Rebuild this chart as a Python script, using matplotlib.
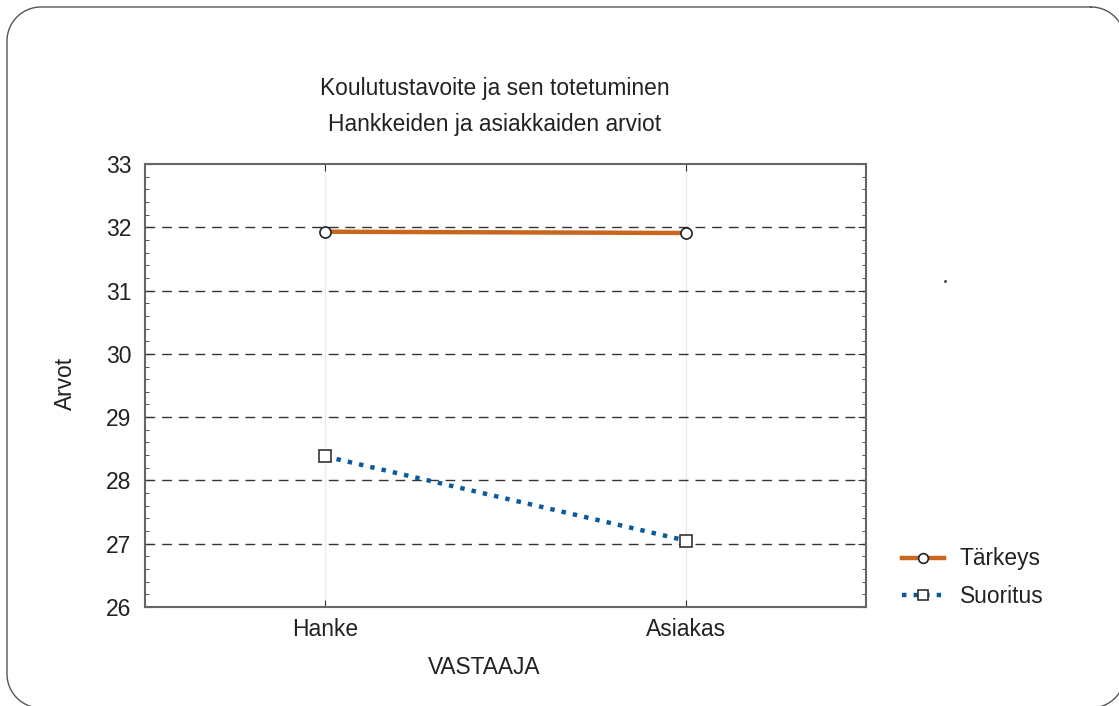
import matplotlib
matplotlib.use('Agg')
import matplotlib.pyplot as plt
import numpy as np
from matplotlib.ticker import MultipleLocator

plt.rcParams['font.family'] = ['Liberation Sans', 'DejaVu Sans']

# data
categories = ['Hanke', 'Asiakas']
tarkeys = [31.93, 31.91]
suoritus = [28.38, 27.05]
series_names = ['Tärkeys', 'Suoritus']
y_ticks = [26, 27, 28, 29, 30, 31, 32, 33]

W, H = 1119, 706
fig = plt.figure(figsize=(W / 100, H / 100), dpi=100)


def rounded_frame(x0, y0, x1, y1, r):
    # outline of a rounded rectangle, pixel coords with y going down
    pts = []
    corners = [(x1 - r, y0 + r, 90, 0), (x1 - r, y1 - r, 0, -90),
               (x0 + r, y1 - r, -90, -180), (x0 + r, y0 + r, 180, 90)]
    for cx, cy, a0, a1 in corners:
        t = np.radians(np.linspace(a0, a1, 30))
        pts += list(zip(cx + r * np.cos(t), cy - r * np.sin(t)))
    pts.append(pts[0])
    return np.array(pts)


# background axes in pixel units for the rounded frame (cut off right/bottom)
bg = fig.add_axes([0, 0, 1, 1], zorder=-1)
bg.set_xlim(0, W)
bg.set_ylim(H, 0)
bg.axis('off')
fp = rounded_frame(7, 7, 1125, 708, 34)
bg.plot(fp[:, 0], fp[:, 1], color='#555555', lw=1.0, clip_on=False)
bg.plot([945], [281], marker='o', markersize=1.2, color='#555555')  # stray dot

ax = fig.add_axes([145 / W, 1 - 607 / H, (866 - 145) / W, (607 - 164) / H])
x = list(range(len(categories)))

# grid
for yv in y_ticks[1:-1]:
    ax.axhline(yv, color='#333333', lw=1.0, dashes=(7, 5), zorder=1)
for xv in x:
    ax.axvline(xv, color='#ebebeb', lw=1.0, zorder=0)

l1, = ax.plot(x, tarkeys, color='#C8661E', lw=3.2, marker='o', markersize=8,
              markerfacecolor='white', markeredgecolor='#222222', markeredgewidth=1.2,
              label=series_names[0], zorder=3)
l2, = ax.plot(x, suoritus, color='#0A5A9C', lw=3.2, dashes=(1.0, 1.6), marker='s',
              markersize=8, markerfacecolor='white', markeredgecolor='#333333',
              markeredgewidth=1.2, label=series_names[1], zorder=3)

ax.set_xlim(-0.5, 1.5)
ax.set_ylim(26, 33)
ax.set_xticks(x)
ax.set_xticklabels(categories)
ax.set_yticks(y_ticks)
ax.yaxis.set_minor_locator(MultipleLocator(0.2))
ax.tick_params(axis='both', which='both', direction='in', top=True, right=True,
               labelsize=16.5, labelcolor='#222222', color='#333333')
ax.tick_params(axis='y', which='major', length=6, pad=10)
ax.tick_params(axis='y', which='minor', length=3)
ax.tick_params(axis='x', which='major', length=5, pad=8)
for s in ax.spines.values():
    s.set_color('#666666')
    s.set_linewidth(1.5)

fig.text(495 / W, 1 - 88 / H, 'Koulutustavoite ja sen totetuminen', ha='center',
         va='center', fontsize=16.4, color='#222222')
fig.text(495 / W, 1 - 125 / H, 'Hankkeiden ja asiakkaiden arviot', ha='center',
         va='center', fontsize=16.4, color='#222222')
fig.text(65 / W, 1 - 383 / H, 'Arvot', rotation=90, ha='center', va='center',
         fontsize=16.4, color='#222222')
fig.text(484 / W, 1 - 668 / H, 'VASTAAJA', ha='center', va='center',
         fontsize=16.4, color='#222222')

leg = fig.legend(handles=[l1, l2], loc='upper left',
                 bbox_to_anchor=(881 / W, 1 - 527 / H), frameon=False,
                 fontsize=16.4, handlelength=1.85, handletextpad=0.7,
                 labelspacing=0.62, labelcolor='#222222')
for h in leg.legend_handles:
    h.set_markersize(7)

fig.savefig('out.png', dpi=100)
